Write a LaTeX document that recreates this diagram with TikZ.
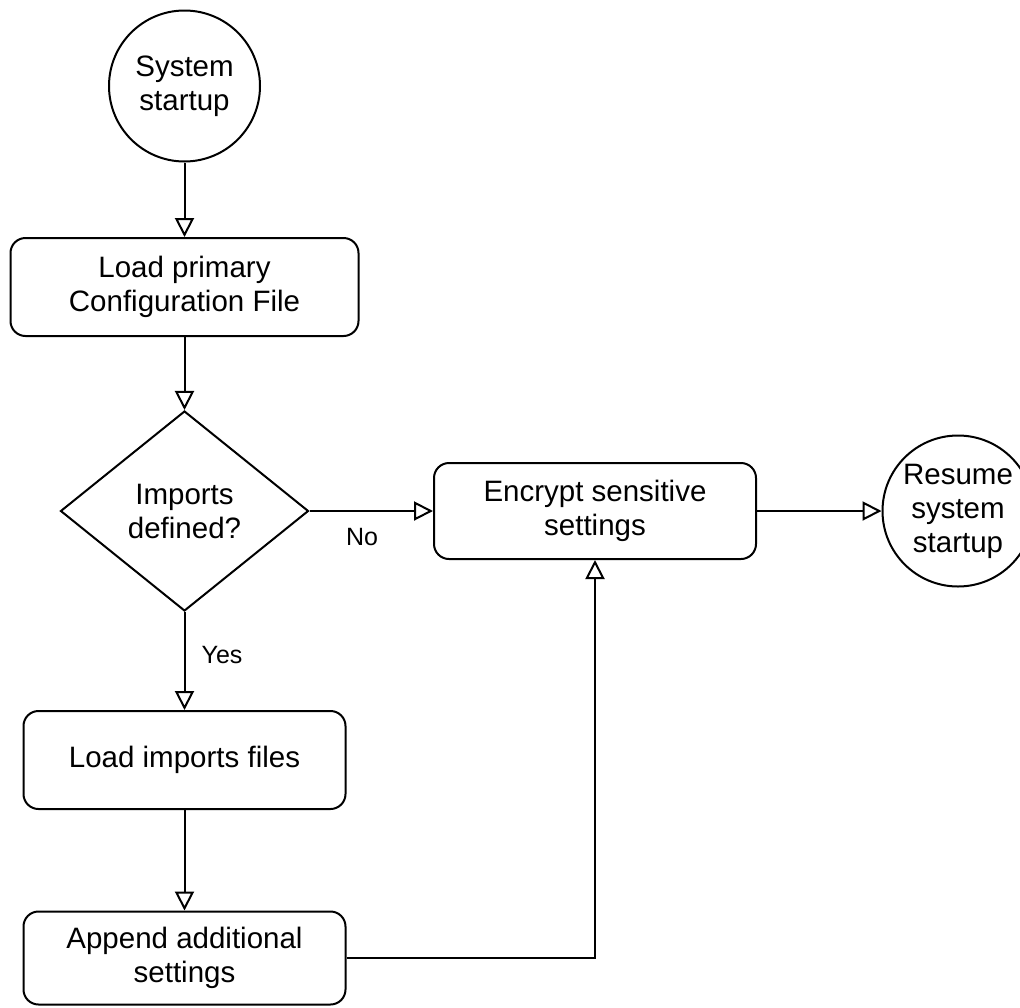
\documentclass[tikz,border=0pt]{standalone}
\usepackage{fontspec}
\setmainfont{Liberation Sans}
\usetikzlibrary{arrows.meta,shapes.geometric}
\begin{document}
\begin{tikzpicture}[x=1pt,y=-1pt,
  base/.style={draw, line width=2pt, inner sep=0pt, align=center,
    font=\fontsize{29.5}{34}\selectfont},
  box/.style={base, rounded corners=15pt},
  startnode/.style={base, circle, minimum size=151pt},
  decision/.style={base, diamond, minimum width=248pt, minimum height=200pt},
  lbl/.style={inner sep=0pt, font=\fontsize{25}{29}\selectfont},
  arr/.style={line width=2pt, -{Triangle[open, length=19pt, width=19pt]}}]
\useasboundingbox (0,0) rectangle (1020,1007);

\node[startnode] (start) at (184.5,86) {System\\startup};
\node[box, minimum width=348pt, minimum height=98pt] (load) at (184.5,287) {Load primary\\Configuration File};
\node[decision] (dec) at (184.5,511) {Imports\\defined?};
\node[box, minimum width=322pt, minimum height=96pt] (enc) at (595,511) {Encrypt sensitive\\settings};
\node[startnode] (resume) at (958,511) {Resume\\system\\startup};
\node[box, minimum width=322pt, minimum height=98pt] (imp) at (184.5,760) {Load imports files};
\node[box, minimum width=322pt, minimum height=93pt] (app) at (184.5,958) {Append additional\\settings};

\node[lbl] (no) at (362,537) {No};
\node[lbl] (yes) at (222,655) {Yes};

\draw[arr] (start) -- (load);
\draw[arr] (load) -- (dec);
\draw[arr] (dec.east) -- (enc.west);
\draw[arr] (enc.east) -- (resume.west);
\draw[arr] (dec.south) -- (imp.north);
\draw[arr] (imp) -- (app);
\draw[arr] (app.east) -| (enc.south);
\end{tikzpicture}
\end{document}
